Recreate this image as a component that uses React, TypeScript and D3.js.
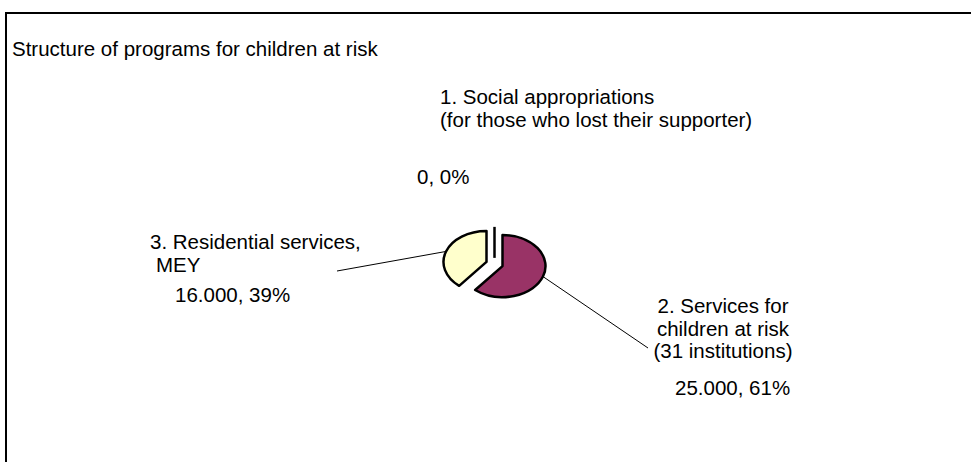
import React from "react";
import * as d3 from "d3";

const title = "Structure of programs for children at risk";
const categories = [
  ["1. Social appropriations", "(for those who lost their supporter)"],
  ["2. Services for", "children at risk", "(31 institutions)"],
  ["3. Residential services,", " MEY"],
];
const values = [0, 25000, 16000];
const valueLabels = ["0, 0%", "25.000, 61%", "16.000, 39%"];
const colors = ["#993366", "#993366", "#FFFFCC"];

// layout (not data)
const W = 971;
const H = 462;
const CX = 494.5;
const CY = 264;
const RX = 43;
const RY = 31;
const EXPLODE = 8.5;
const FONT = 20.5;
const LINE = 22.5;

type LabelLayout = {
  x: number;
  y: number;
  anchor: "start" | "middle";
  vx: number;
  vy: number;
  vanchor: "start" | "middle";
  leader: [number, number] | null;
  indent?: number[];
};

const labelLayout: LabelLayout[] = [
  { x: 440, y: 104, anchor: "start", vx: 417, vy: 184, vanchor: "start", leader: null },
  { x: 723, y: 313, anchor: "middle", vx: 675, vy: 395, vanchor: "start", leader: [648, 348] },
  { x: 150, y: 249, anchor: "start", vx: 175, vy: 302, vanchor: "start", leader: [337, 271], indent: [0, 6] },
];

export default function App() {
  const k = RY / RX;
  const pie = d3
    .pie<number>()
    .sort(null)
    .startAngle(0)
    .endAngle(2 * Math.PI)(values);
  const arc = d3.arc<d3.PieArcDatum<number>>().innerRadius(0).outerRadius(RX);

  const font = "'Liberation Sans', Arial, Helvetica, sans-serif";

  return (
    <svg
      width={W}
      height={H}
      style={{ position: "absolute", left: 0, top: 0, display: "block", background: "#fff" }}
      fontFamily={font}
      fontSize={FONT}
    >
      <rect x={W * 0 + 6} y={13} width={2000} height={2000} fill="#fff" stroke="#000" strokeWidth={2} />
      <text x={12} y={56} fill="#000">
        {title}
      </text>

      {pie.map((p, i) => {
        const mid = (p.startAngle + p.endAngle) / 2;
        const ox = EXPLODE * Math.sin(mid);
        const oy = -EXPLODE * Math.cos(mid);
        const tx = CX + ox;
        const ty = CY + oy * k;
        if (p.endAngle - p.startAngle < 1e-6) {
          // zero slice: a single radius line
          return (
            <line
              key={i}
              x1={tx}
              y1={ty}
              x2={tx + RX * Math.sin(p.startAngle)}
              y2={ty - RY * Math.cos(p.startAngle)}
              stroke="#000"
              strokeWidth={2.5}
            />
          );
        }
        return (
          <g key={i} transform={`translate(${tx},${ty}) scale(1,${k})`}>
            <path
              d={arc(p) || ""}
              fill={colors[i]}
              stroke="#000"
              strokeWidth={2.5}
              strokeLinejoin="round"
              vectorEffect="non-scaling-stroke"
            />
          </g>
        );
      })}

      {pie.map((p, i) => {
        const L = labelLayout[i];
        if (!L.leader) return null;
        const mid = (p.startAngle + p.endAngle) / 2;
        const ox = EXPLODE * Math.sin(mid);
        const oy = -EXPLODE * Math.cos(mid);
        const ex = CX + ox + RX * Math.sin(mid);
        const ey = CY + oy * k - RY * Math.cos(mid);
        return (
          <line key={"l" + i} x1={L.leader[0]} y1={L.leader[1]} x2={ex} y2={ey} stroke="#000" strokeWidth={1} />
        );
      })}

      {categories.map((lines, i) => {
        const L = labelLayout[i];
        return (
          <g key={"t" + i}>
            <text textAnchor={L.anchor} fill="#000">
              {lines.map((s, j) => (
                <tspan key={j} x={L.x + (L.indent ? L.indent[j] : 0)} y={L.y + j * LINE}>
                  {s.trim()}
                </tspan>
              ))}
            </text>
            <text x={L.vx} y={L.vy} textAnchor={L.vanchor} fill="#000">
              {valueLabels[i]}
            </text>
          </g>
        );
      })}
    </svg>
  );
}
